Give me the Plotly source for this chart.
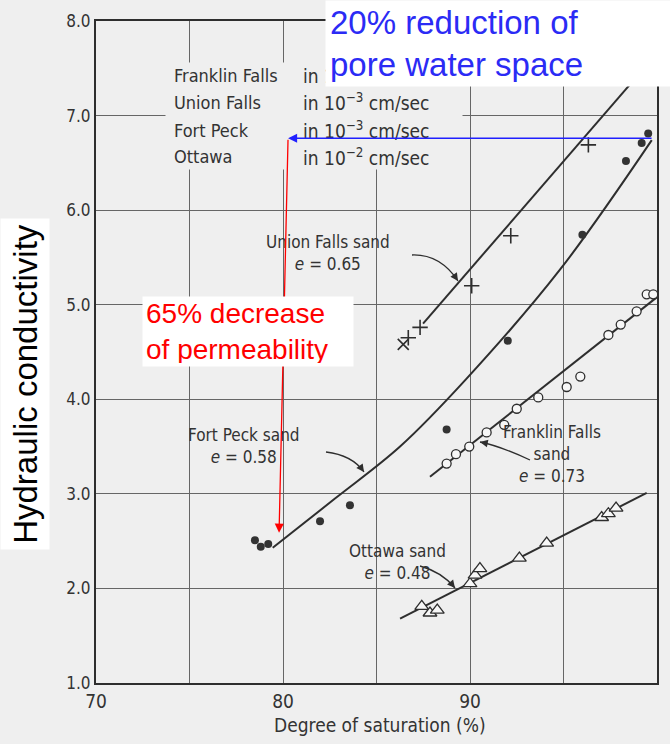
import plotly.graph_objects as go

# ---------------- data ----------------
fort_peck_x = [78.50, 78.81, 79.21, 81.98, 83.58, 88.75, 92.02, 96.01, 98.34, 99.18, 99.53]
fort_peck_y = [2.51, 2.44, 2.47, 2.71, 2.88, 3.68, 4.62, 5.74, 6.52, 6.71, 6.81]
fort_peck_fit_x = [79.45, 82.78, 86.26, 89.78, 94.81, 99.72]
fort_peck_fit_y = [2.43, 2.95, 3.50, 4.21, 5.37, 6.74]

union_x = [86.43, 86.70, 87.33, 90.09, 92.18, 96.33]
union_y = [4.58, 4.65, 4.76, 5.20, 5.73, 6.69]
union_fit_x = [87.49, 99.0]
union_fit_y = [4.80, 7.43]

franklin_x = [88.75, 89.25, 89.96, 90.89, 91.83, 92.50, 93.65, 95.17, 95.90, 97.40, 98.06, 98.91, 99.45, 99.80, 100.12]
franklin_y = [3.32, 3.42, 3.50, 3.65, 3.73, 3.90, 4.02, 4.13, 4.24, 4.68, 4.79, 4.93, 5.11, 5.11, 5.10]
franklin_fit_x = [87.86, 100.0]
franklin_fit_y = [3.18, 5.08]

ottawa_x = [87.42, 87.86, 88.25, 90.00, 90.27, 90.53, 92.64, 94.10, 97.04, 97.40, 97.81]
ottawa_y = [1.81, 1.74, 1.77, 2.05, 2.14, 2.21, 2.32, 2.48, 2.75, 2.79, 2.85]
ottawa_fit_x = [86.26, 99.45]
ottawa_fit_y = [1.68, 3.01]

x_ticks = [70, 75, 80, 85, 90, 95, 100]
x_tick_text = ["70", "", "80", "", "90", "", "100"]
y_ticks = [1, 2, 3, 4, 5, 6, 7, 8]
y_tick_text = ["1.0", "2.0", "3.0", "4.0", "5.0", "6.0", "7.0", "8.0"]

legend_names = ["Franklin Falls", "Union Falls", "Fort Peck", "Ottawa"]
legend_exps = ["−3", "−3", "−3", "−2"]

# reduction annotation (overlay)
arrow_level = 6.76      # horizontal blue arrow level
arrow_start_x = 99.79
arrow_end_x = 80.27
red_end_x = 79.79
red_end_y = 2.59

# ---------------- layout geometry ----------------
W, H = 670, 744
ML, MR, MT, MB = 96, 13, 21, 61
PW, PH = W - ML - MR, H - MT - MB
X0, X1, Y0, Y1 = 70, 100, 1, 8

def dx(px):
    return X0 + (px - ML) / PW * (X1 - X0)

def dy(py):
    return Y1 - (py - MT) / PH * (Y1 - Y0)

def pxp(px):
    return (px - ML) / PW

def pyp(py):
    return (MT + PH - py) / PH

INK = "#2e2e2e"
BG = "#efefef"
FONT = "Liberation Sans Narrow, DejaVu Sans Condensed, Liberation Sans, sans-serif"
SANS = "Liberation Sans, Arial, sans-serif"

fig = go.Figure()

line_style = dict(color=INK, width=2)
fig.add_trace(go.Scatter(x=fort_peck_fit_x, y=fort_peck_fit_y, mode="lines",
                         line=dict(color=INK, width=2, shape="spline", smoothing=1.0), hoverinfo="skip"))
fig.add_trace(go.Scatter(x=union_fit_x, y=union_fit_y, mode="lines", line=line_style, hoverinfo="skip"))
fig.add_trace(go.Scatter(x=franklin_fit_x, y=franklin_fit_y, mode="lines", line=line_style, hoverinfo="skip"))
fig.add_trace(go.Scatter(x=ottawa_fit_x, y=ottawa_fit_y, mode="lines", line=line_style, hoverinfo="skip"))

fig.add_trace(go.Scatter(x=fort_peck_x, y=fort_peck_y, mode="markers", cliponaxis=False,
                         marker=dict(symbol="circle", size=8, color="#333333")))
fig.add_trace(go.Scatter(x=union_x, y=union_y, mode="markers", cliponaxis=False,
                         marker=dict(symbol=["x-thin", "cross-thin", "cross-thin", "cross-thin", "cross-thin", "cross-thin"],
                                     size=11, line=dict(color=INK, width=1.6))))
fig.add_trace(go.Scatter(x=franklin_x, y=franklin_y, mode="markers", cliponaxis=False,
                         marker=dict(symbol="circle", size=9, color="#f7f7f7", line=dict(color=INK, width=1.3))))
fig.add_trace(go.Scatter(x=ottawa_x, y=ottawa_y, mode="markers", cliponaxis=False,
                         marker=dict(symbol="triangle-up", size=12, color="#f7f7f7", line=dict(color=INK, width=1.3))))

# curved pointer arrows for the sand labels (start, control, tip) in pixels
curves = [
    ((412, 255), (440, 254), (458, 281)),
    ((326, 452), (352, 455), (364, 472)),
    ((530, 460), (500, 446), (480, 442)),
    ((420, 566), (442, 572), (455, 588)),
]
shapes = []
annotations = []
for (s, c, t) in curves:
    path = "M {} {} Q {} {} {} {}".format(dx(s[0]), dy(s[1]), dx(c[0]), dy(c[1]), dx(t[0]), dy(t[1]))
    shapes.append(dict(type="path", path=path, xref="x", yref="y", line=dict(color=INK, width=1.3)))
    vx, vy = t[0] - c[0], t[1] - c[1]
    n = (vx ** 2 + vy ** 2) ** 0.5
    annotations.append(dict(x=dx(t[0]), y=dy(t[1]), xref="x", yref="y", text="", showarrow=True,
                            ax=-vx / n * 8, ay=-vy / n * 8, arrowhead=2, arrowsize=1.2,
                            arrowwidth=1.3, arrowcolor=INK))

# background patch behind the unit legend (hides grid lines)
annotations.append(dict(x=pxp(165), y=pyp(62), xref="paper", yref="paper", xanchor="left", yanchor="top",
                        text=" ", showarrow=False, width=296, height=106, bgcolor=BG, borderpad=0))

legend_rows = [75, 102, 130, 157]
for name, ex, ry in zip(legend_names, legend_exps, legend_rows):
    annotations.append(dict(x=pxp(172), y=pyp(ry), xref="paper", yref="paper", xanchor="left", yanchor="middle",
                            text=name, showarrow=False, font=dict(family=FONT, size=18, color="#333333")))
    annotations.append(dict(x=pxp(301), y=pyp(ry), xref="paper", yref="paper", xanchor="left", yanchor="middle",
                            text="in 10<sup>" + ex + "</sup> cm/sec", showarrow=False,
                            font=dict(family=FONT, size=19, color="#333333")))

labels = [
    ((328, 253), "Union Falls sand<br><i>e</i> = 0.65"),
    ((244, 446), "Fort Peck sand<br><i>e</i> = 0.58"),
    ((552, 454), "Franklin Falls<br>sand<br><i>e</i> = 0.73"),
    ((397, 562), "Ottawa sand<br><i>e</i> = 0.48"),
]
for (lx, ly), txt in labels:
    annotations.append(dict(x=pxp(lx), y=pyp(ly), xref="paper", yref="paper", xanchor="center", yanchor="middle",
                            text=txt, showarrow=False, align="center",
                            font=dict(family=FONT, size=17, color="#333333")))

# x-axis title
annotations.append(dict(x=pxp(380), y=pyp(725), xref="paper", yref="paper", xanchor="center", yanchor="middle",
                        text="Degree of saturation (%)", showarrow=False,
                        font=dict(family=FONT, size=19, color="#333333")))

# red vertical arrow
annotations.append(dict(x=red_end_x, y=red_end_y, xref="x", yref="y", ax=arrow_end_x, ay=arrow_level,
                        axref="x", ayref="y", text="", showarrow=True, arrowhead=2, arrowsize=1.4,
                        arrowwidth=1.3, arrowcolor="#ff0000"))
# blue horizontal arrow
annotations.append(dict(x=arrow_end_x, y=arrow_level, xref="x", yref="y", ax=arrow_start_x, ay=arrow_level,
                        axref="x", ayref="y", text="", showarrow=True, arrowhead=2, arrowsize=1.4,
                        arrowwidth=1.3, arrowcolor="#2020ff"))

# white callout boxes
annotations.append(dict(x=pxp(325), y=pyp(0), xref="paper", yref="paper", xanchor="left", yanchor="top",
                        text="20% reduction of<br>pore water space", showarrow=False, align="left",
                        width=337, height=77, borderpad=4, bgcolor="white", valign="middle",
                        font=dict(family=SANS, size=33, color="#2b2bf5")))
annotations.append(dict(x=pxp(142), y=pyp(296), xref="paper", yref="paper", xanchor="left", yanchor="top",
                        text="65% decrease<br>of permeability", showarrow=False, align="left",
                        width=204, height=63, borderpad=3, bgcolor="white", valign="middle",
                        font=dict(family=SANS, size=28, color="#ff0000")))
annotations.append(dict(x=pxp(0), y=pyp(384), xref="paper", yref="paper", xanchor="left", yanchor="middle",
                        text="Hydraulic conductivity", showarrow=False, textangle=-90,
                        width=326, height=44, borderpad=2, bgcolor="white",
                        font=dict(family=SANS, size=33, color="black")))

axis_common = dict(showgrid=True, gridcolor="#666666", gridwidth=1, showline=True, linecolor=INK,
                   linewidth=2, mirror=True, zeroline=False, ticks="")

fig.update_layout(
    width=W, height=H,
    margin=dict(l=ML, r=MR, t=MT, b=MB),
    paper_bgcolor=BG, plot_bgcolor=BG,
    showlegend=False,
    xaxis=dict(range=[X0, X1], tickvals=x_ticks, ticktext=x_tick_text,
               tickfont=dict(family=FONT, size=19, color="#333333"), **axis_common),
    yaxis=dict(range=[Y0, Y1], tickvals=y_ticks, ticktext=y_tick_text,
               tickfont=dict(family=FONT, size=17, color="#333333"), **axis_common),
    shapes=shapes,
    annotations=annotations,
)

fig.write_html("out.html", config={"displayModeBar": False})
